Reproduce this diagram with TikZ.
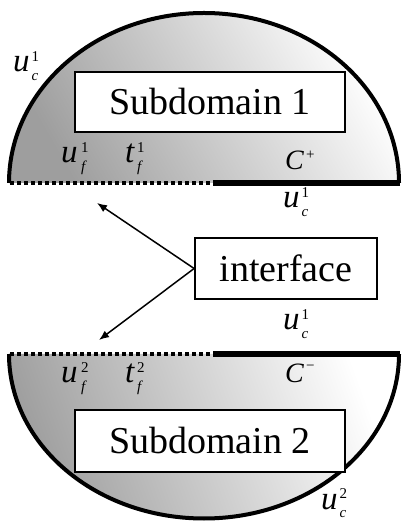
\documentclass[tikz,border=0pt]{standalone}
\usepackage{fontspec}
\setmainfont{Liberation Serif}
\usetikzlibrary{arrows.meta}
\newcommand\scr[3]{\textit{#1}\kern#2\makebox[0pt][l]{\raisebox{10pt}{\fontsize{15}{15}\selectfont #3}}}
\newcommand\lbl[4]{\textit{#1}\kern#4\makebox[0pt][l]{\raisebox{10pt}{\fontsize{15}{15}\selectfont #3}}\raisebox{-8.5pt}{\fontsize{15}{15}\selectfont\textit{#2}}}
\tikzset{
  box/.style={draw=black, line width=1.8pt, fill=white, inner sep=0pt, font=\fontsize{38}{38}\selectfont},
  lab/.style={anchor=base west, inner sep=0pt, font=\fontsize{33}{33}\selectfont},
  clab/.style={anchor=base west, inner sep=0pt, font=\fontsize{28}{28}\selectfont},
  arcline/.style={line width=4pt},
  dotline/.style={line width=4pt, dash pattern=on 4pt off 3pt},
  thickline/.style={line width=6pt},
  arr/.style={line width=1.5pt, -{Latex[length=10pt,width=8pt]}}
}
\begin{document}
\begin{tikzpicture}[x=1pt,y=1pt]
\useasboundingbox (0,0) rectangle (402,521);
% top half
\coordinate (tl) at (9,338);
\coordinate (tm) at (213,338);
\coordinate (tr) at (400,338);
\coordinate (tld) at (10,338);
\shade[top color=white, bottom color=black!38, shading angle=-60]
  (tl) arc[start angle=180, end angle=0, x radius=195, y radius=170] -- cycle;
\draw[arcline] (tl) arc[start angle=180, end angle=0, x radius=195, y radius=170];
\draw[dotline] (tld) -- (tm);
\draw[thickline] (tm) -- (tr);
% bottom half
\coordinate (bl) at (9,167);
\coordinate (bm) at (213,167);
\coordinate (br) at (400,167);
\coordinate (bld) at (10,167);
\shade[top color=white, bottom color=black!38, shading angle=-70]
  (bl) arc[start angle=180, end angle=360, x radius=195, y radius=164.5] -- cycle;
\draw[arcline] (bl) arc[start angle=180, end angle=360, x radius=195, y radius=164.5];
\draw[dotline] (bld) -- (bm);
\draw[thickline] (bm) -- (br);
% boxes
\node[box, minimum width=270pt, minimum height=60pt] (s1) at (210,419) {Subdomain 1};
\node[box, minimum width=270pt, minimum height=62pt] (s2) at (210,80) {Subdomain 2};
\node[box, minimum width=182pt, minimum height=61pt] (int) at (286,252.5) {interface};
% arrows
\coordinate (a1) at (97,318);
\coordinate (a2) at (99,181);
\draw[arr] (int.west) -- (a1);
\draw[arr] (int.west) -- (a2);
% labels
\node[lab] (uc1a) at (13,449) {\lbl{u}{c}{1}{2pt}};
\node[lab] (uf1) at (61,358) {\lbl{u}{f}{1}{3.5pt}};
\node[lab] (tf1) at (125,358) {\lbl{t}{f}{1}{2pt}};
\node[clab] (cp) at (285,351) {\scr{C}{2pt}{+}};
\node[lab] (uc1b) at (283,313) {\lbl{u}{c}{1}{2pt}};
\node[lab] (uc1c) at (283,191) {\lbl{u}{c}{1}{2pt}};
\node[lab] (uf2) at (61,138) {\lbl{u}{f}{2}{3.5pt}};
\node[lab] (tf2) at (125,138) {\lbl{t}{f}{2}{2pt}};
\node[clab] (cm) at (285,138) {\textit{C}\kern2pt\raisebox{12pt}{\fontsize{15}{15}\selectfont −}};
\node[lab] (uc2) at (321,12) {\lbl{u}{c}{2}{2pt}};
\end{tikzpicture}
\end{document}
